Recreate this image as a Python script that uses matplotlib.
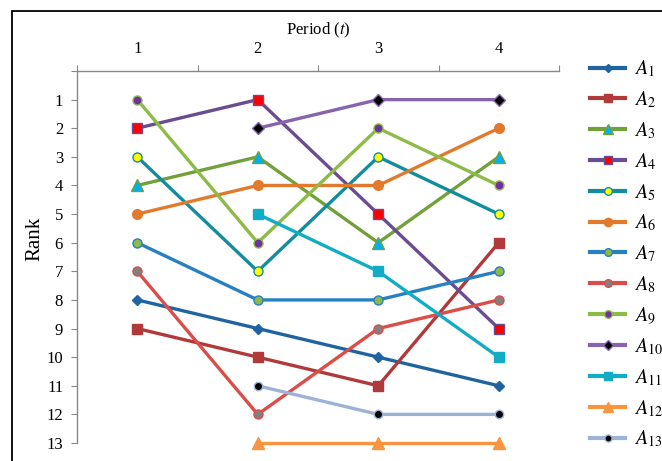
import matplotlib
matplotlib.use('Agg')
import matplotlib.pyplot as plt
from matplotlib.patches import Rectangle
import numpy as np

plt.rcParams['font.family'] = ['Liberation Serif', 'DejaVu Serif']
plt.rcParams['mathtext.fontset'] = 'stix'

# 数据：各方案在每个时期的排名（None 表示该时期没有）
periods = [1, 2, 3, 4]
names = ['$A_{%d}$' % i for i in range(1, 14)]
ranks = [
    [8, 9, 10, 11],
    [9, 10, 11, 6],
    [4, 3, 6, 3],
    [2, 1, 5, 9],
    [3, 7, 3, 5],
    [5, 4, 4, 2],
    [6, 8, 8, 7],
    [7, 12, 9, 8],
    [1, 6, 2, 4],
    [None, 2, 1, 1],
    [None, 5, 7, 10],
    [None, 13, 13, 13],
    [None, 11, 12, 12],
]

line_colors = ['#1F64A0', '#B0393A', '#72A03A', '#6A4C91', '#138C9E', '#E27A2E',
               '#2680C2', '#DA4D48', '#8DBB48', '#8765AE', '#12ACC6', '#F99440', '#9DB3D6']
markers = ['D', 's', '^', 's', 'o', 'o', 'o', 'o', 'o', 'D', 's', '^', 'o']
face_colors = ['#1F64A0', '#B0393A', '#00B0F0', '#FF0000', '#FFFF00', '#E27A2E',
               '#8DB84A', '#808080', '#7030A0', '#000000', '#12ACC6', '#F99440', '#000000']
sizes = [5, 6.5, 8, 6.5, 6.5, 7, 6.5, 6.5, 6.5, 6, 6.5, 8, 6]

fig = plt.figure(figsize=(6.62, 4.61), dpi=100)
ax = fig.add_axes([77 / 662, 1 - 443 / 461, (559 - 77) / 662, (443 - 71) / 461])

for i in range(len(names)):
    xs = [p for p, r in zip(periods, ranks[i]) if r is not None]
    ys = [r for r in ranks[i] if r is not None]
    ax.plot(xs, ys, color=line_colors[i], lw=2.4, marker=markers[i],
            markersize=sizes[i], markerfacecolor=face_colors[i],
            markeredgecolor=line_colors[i], markeredgewidth=1.0,
            label=names[i], clip_on=False, zorder=3 + i)

ax.set_xlim(0.5, 4.5)
ax.set_ylim(13, 0)
ax.xaxis.tick_top()
ax.xaxis.set_label_position('top')
ax.set_xticks(np.arange(0.5, 4.6, 1))
ax.set_xticklabels([])
ax.set_xticks(periods, minor=True)
ax.set_xticklabels([str(p) for p in periods], minor=True)
ax.tick_params(axis='x', which='major', length=4, color='#888888', direction='out')
ax.tick_params(axis='x', which='minor', length=0, labelsize=12, pad=10)
ax.set_yticks(range(0, 14))
ax.set_yticklabels([''] + [str(r) for r in range(1, 14)])
ax.tick_params(axis='y', length=4, color='#888888', labelsize=12, pad=6)
ax.set_xlabel('Period ($\\mathit{t}$)', fontsize=12, labelpad=5)
ax.set_ylabel('Rank', fontsize=15)
ax.yaxis.set_label_coords(-0.068, 0.55)

for side in ['right', 'bottom']:
    ax.spines[side].set_visible(False)
for side in ['top', 'left']:
    ax.spines[side].set_color('#888888')
    ax.spines[side].set_linewidth(1.0)

leg = fig.legend(loc='upper left', bbox_to_anchor=(582 / 662, 1 - 51 / 461), frameon=False,
                 fontsize=14.5, handlelength=1.75, labelspacing=0.5, handletextpad=0.45,
                 borderaxespad=0, markerscale=0.85)
for h in leg.legend_handles:
    h.set_linewidth(3)

fig.add_artist(Rectangle((12 / 662, -0.1), 1.2, 1 - 11 / 461 + 0.1,
                         transform=fig.transFigure, fill=False, edgecolor='black', lw=1.3))

plt.savefig('out.png', dpi=100)
